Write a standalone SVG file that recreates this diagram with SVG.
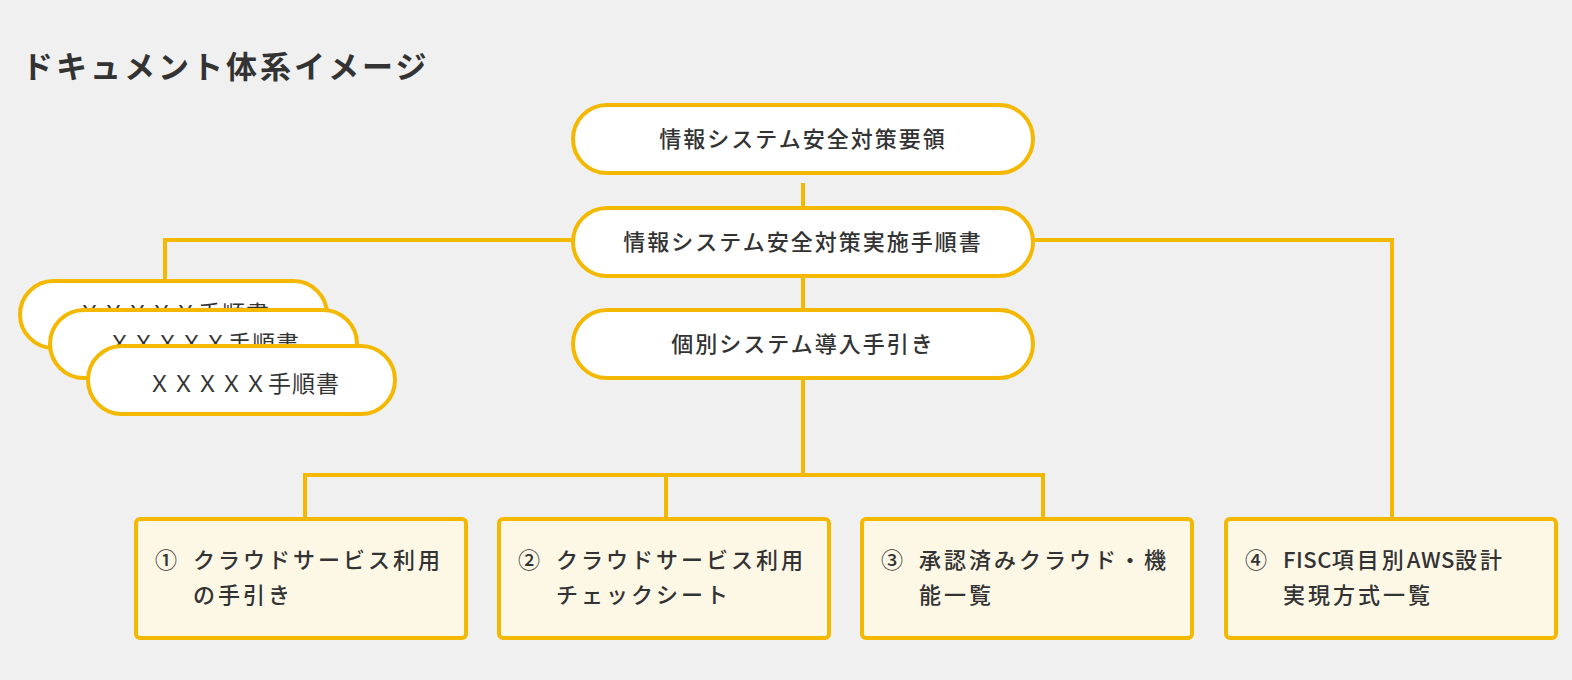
<svg xmlns="http://www.w3.org/2000/svg" width="1572" height="680" viewBox="0 0 1572 680">
<style>
text{font-family:"Noto Sans CJK JP","Noto Sans",sans-serif;fill:#333}
.title{font-size:31px;font-weight:700;letter-spacing:3px}
.pill{fill:#fff;stroke:#F5B800;stroke-width:4}
.pt{font-size:22px;font-weight:500;letter-spacing:2px;text-anchor:middle}
.xt{font-size:23px;font-weight:400;letter-spacing:1px;text-anchor:middle}
.box{fill:#FDF7E6;stroke:#F5B800;stroke-width:4}
.bt{font-size:22px;font-weight:500;letter-spacing:3px}
.lat{letter-spacing:0.5px}
.con{fill:none;stroke:#F5B800;stroke-width:4}
</style>
<rect width="1572" height="680" fill="#F0F0F0"/>
<text class="title" x="22" y="78">ドキュメント体系イメージ</text>

<g id="connectors">
<path class="con" d="M803 183V208"/>
<path class="con" d="M803 277V310"/>
<path class="con" d="M803 379V475"/>
<path class="con" d="M305 519V475H1043V519"/>
<path class="con" d="M666 475V519"/>
<path class="con" d="M573 240H165V281"/>
<path class="con" d="M1033 240H1392V519"/>
</g>

<g id="n-yoryo">
<rect class="pill" x="573" y="105" width="460" height="68" rx="34"/>
<text class="pt" x="803" y="147">情報システム安全対策要領</text>
</g>
<g id="n-tejunsho">
<rect class="pill" x="573" y="208" width="460" height="68" rx="34"/>
<text class="pt" x="803" y="250">情報システム安全対策実施手順書</text>
</g>
<g id="n-kobetsu">
<rect class="pill" x="573" y="310" width="460" height="68" rx="34"/>
<text class="pt" x="803" y="352">個別システム導入手引き</text>
</g>

<g id="n-x1">
<rect class="pill" x="20" y="281" width="307" height="67" rx="33.5"/>
<text class="xt" x="174" y="322">ＸＸＸＸＸ手順書</text>
</g>
<g id="n-x2">
<rect class="pill" x="50" y="310" width="307" height="68" rx="34"/>
<text class="xt" x="204" y="352">ＸＸＸＸＸ手順書</text>
</g>
<g id="n-x3">
<rect class="pill" x="88" y="346" width="307" height="68" rx="34"/>
<text class="xt" x="244" y="392">ＸＸＸＸＸ手順書</text>
</g>

<g id="n-1">
<rect class="box" x="136" y="519" width="330" height="119" rx="4"/>
<text class="bt" y="568"><tspan x="155">①</tspan><tspan x="193">クラウドサービス利用</tspan></text>
<text class="bt" x="193" y="603">の手引き</text>
</g>
<g id="n-2">
<rect class="box" x="499" y="519" width="330" height="119" rx="4"/>
<text class="bt" y="568"><tspan x="518">②</tspan><tspan x="556">クラウドサービス利用</tspan></text>
<text class="bt" x="556" y="603">チェックシート</text>
</g>
<g id="n-3">
<rect class="box" x="862" y="519" width="330" height="119" rx="4"/>
<text class="bt" y="568"><tspan x="881">③</tspan><tspan x="919">承認済みクラウド・機</tspan></text>
<text class="bt" x="919" y="603">能一覧</text>
</g>
<g id="n-4">
<rect class="box" x="1226" y="519" width="330" height="119" rx="4"/>
<text class="bt" y="568"><tspan x="1245">④</tspan><tspan x="1283" class="lat">FISC</tspan><tspan>項目別</tspan><tspan class="lat">AWS</tspan><tspan>設計</tspan></text>
<text class="bt" x="1283" y="603">実現方式一覧</text>
</g>
</svg>
